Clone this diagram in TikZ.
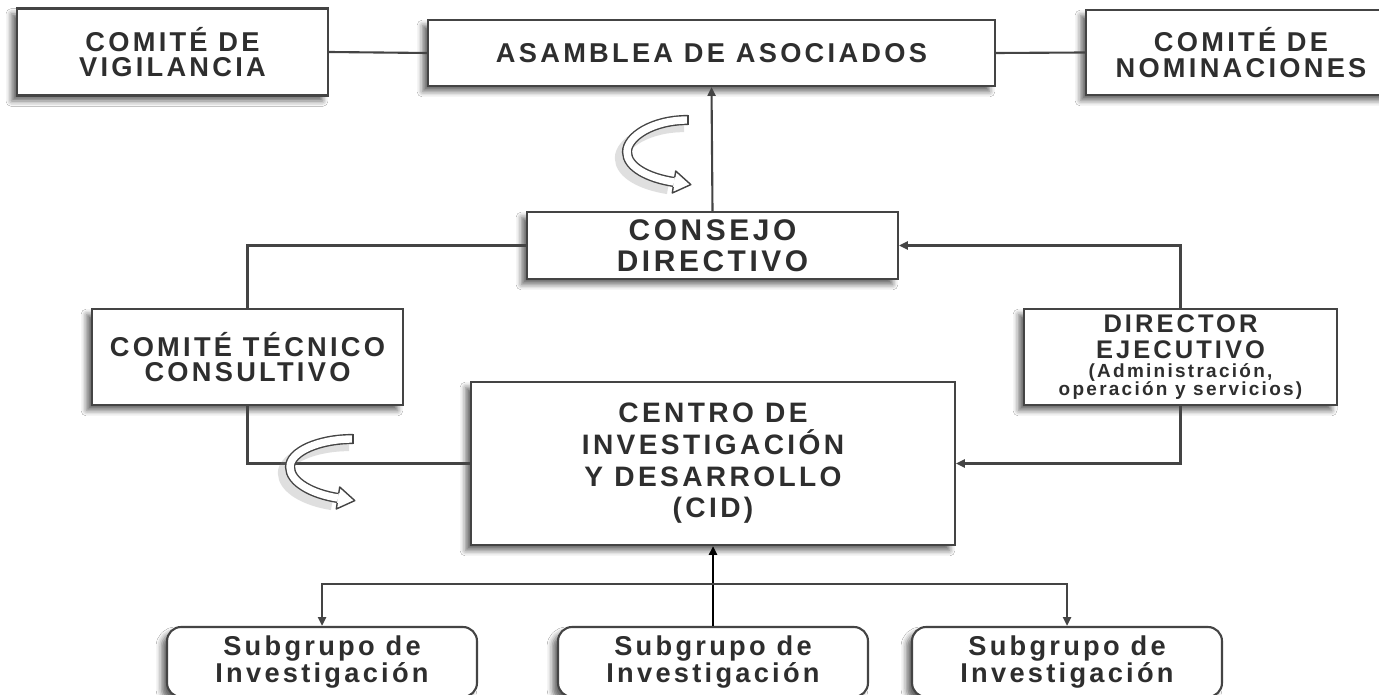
\documentclass[tikz,border=0pt]{standalone}
\usepackage{fontspec}
\newfontfamily\lsf[LetterSpace=12]{Liberation Sans}
\usetikzlibrary{arrows.meta,shadows.blur}
\definecolor{txt}{HTML}{2E2E2E}
\definecolor{ln}{HTML}{444444}
\newcommand\bigf{\lsf\bfseries\fontsize{15.5}{14.5}\selectfont}
\newcommand\smf{\lsf\bfseries\fontsize{10.8}{10.2}\selectfont}
\begin{document}
\begin{tikzpicture}[x=0.02cm,y=-0.02cm,
  box/.style={draw=ln, line width=1.2pt, fill=white, inner sep=0pt, align=center, text=txt,
    font=\bigf,
    blur shadow={shadow xshift=-1.1mm, shadow yshift=-1.1mm, shadow opacity=60, shadow blur radius=1.1mm}},
  rbox/.style={box, rounded corners=8pt, font=\lsf\bfseries\fontsize{15.5}{13.5}\selectfont},
  conn/.style={draw=ln, line width=1.2pt},
  arr/.style={conn, -{Triangle[length=5pt,width=4.5pt]}},
  curv/.style={draw=ln, line width=0.8pt, double=white, double distance=4.2pt},
  curvshadow/.style={draw=gray, line width=7pt, opacity=0.25}
]
\useasboundingbox[fill=white] (0,0) rectangle (1379,695);

% top row
\node[box, minimum width=6.22cm, minimum height=1.74cm] (vig) at (172.5,52) {COMITÉ DE\\VIGILANCIA};
\node[box, minimum width=11.34cm, minimum height=1.32cm] (asam) at (711.5,53) {ASAMBLEA DE ASOCIADOS};
\node[box, minimum width=6.2cm, minimum height=1.7cm] (nom) at (1241,52.5) {COMITÉ DE\\NOMINACIONES};

% middle
\node[box, minimum width=7.42cm, minimum height=1.34cm, font=\lsf\bfseries\fontsize{17}{17.5}\selectfont] (cons) at (712.5,245.5) {CONSEJO\\DIRECTIVO};
\node[box, minimum width=6.22cm, minimum height=1.92cm, font=\lsf\bfseries\fontsize{15.5}{14.5}\selectfont] (tec) at (247.5,357) {COMITÉ TÉCNICO\\CONSULTIVO};
\node[box, minimum width=6.26cm, minimum height=1.92cm, font=\lsf\bfseries\fontsize{14.5}{14.5}\selectfont] (dir) at (1180.5,357)
  {DIRECTOR\\EJECUTIVO\\[-3.5pt]\smf(Administración,\\[-4.6pt]\smf operación y servicios)};
\node[box, minimum width=9.68cm, minimum height=3.26cm, font=\lsf\bfseries\fontsize{16}{18}\selectfont] (cid) at (713,463.5)
  {CENTRO DE\\INVESTIGACIÓN\\Y DESARROLLO\\(CID)};

% bottom
\node[rbox, minimum width=6.2cm, minimum height=1.4cm] (s1) at (322,662) {Subgrupo de\\Investigación};
\node[rbox, minimum width=6.2cm, minimum height=1.4cm] (s2) at (713,662) {Subgrupo de\\Investigación};
\node[rbox, minimum width=6.2cm, minimum height=1.4cm] (s3) at (1067,662) {Subgrupo de\\Investigación};

% connectors
\draw[conn] (vig.east) -- (asam.west);
\draw[conn] (asam.east) -- (nom.west);
\draw[arr] (cons.north) -- (asam.south);
\draw[conn] (cons.west) -| (tec.north);
\draw[conn] (tec.south) |- (cid.west);
\draw[arr] (dir.north) |- (cons.east);
\draw[arr] (dir.south) |- (cid.east);
\coordinate (j) at (713,584);
\draw[arr, draw=black, line width=1.4pt] (s2.north) -- (cid.south);
\draw[arr] (j) -| (s1.north);
\draw[arr] (j) -| (s3.north);

% curved arrow 1
\draw[curvshadow] (684,126) .. controls (648,126) and (621,143) .. (621,158) .. controls (621,173) and (642,184) .. (668,188);
\draw[curv] (688,120) .. controls (652,120) and (627,137) .. (627,152) .. controls (627,167) and (648,178) .. (674,182);
\fill[white] (675.7,171) -- (690.8,184.6) -- (672.3,193) -- cycle;
\draw[draw=ln, line width=0.8pt, line join=round] (674.8,177) -- (675.7,171) -- (690.8,184.6) -- (672.3,193) -- (673.2,187);
\draw[draw=ln, line width=0.8pt] (688,115.2) -- (688,124.8);

% curved arrow 2
\draw[curvshadow] (349,445) .. controls (314,445) and (284,458) .. (284,473) .. controls (284,488) and (306,500) .. (332,504);
\draw[curv] (353,439) .. controls (318,439) and (290,452) .. (290,467) .. controls (290,482) and (312,494) .. (338,498);
\fill[white] (339.7,487) -- (354.8,500.6) -- (336.3,509) -- cycle;
\draw[draw=ln, line width=0.8pt, line join=round] (338.8,493) -- (339.7,487) -- (354.8,500.6) -- (336.3,509) -- (337.2,503);
\draw[draw=ln, line width=0.8pt] (353,434.2) -- (353,443.8);
\end{tikzpicture}
\end{document}
